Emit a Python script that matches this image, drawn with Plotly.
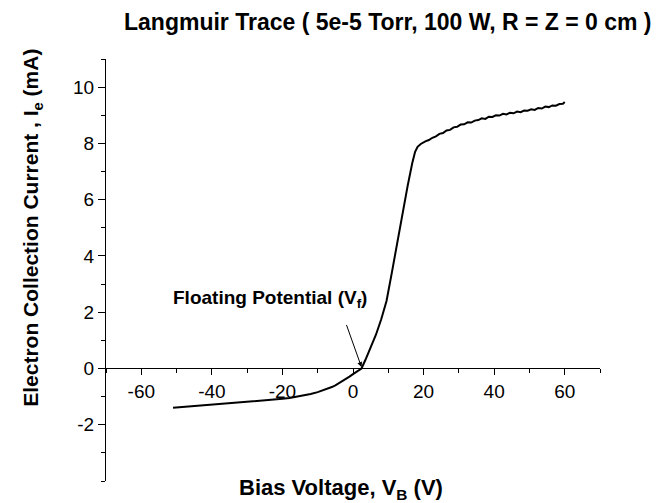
import plotly.graph_objects as go

bias_v = [-51, -50, -48, -46, -44, -42, -40, -38, -35, -32, -30, -27, -25, -22, -20,
          -18, -16, -14, -12, -10, -8, -6, -5, -4, -3, -2, -1, 0, 1, 2.4,
          3.5, 5, 6.5, 8, 9.5, 11, 12.5, 14, 15.5, 16.8, 17.6, 18.3, 19.2, 20.5,
          21.5, 22.5, 23.5, 24.5, 25.5, 26.5, 27.5, 28.5, 29.5, 30.5, 31.5, 32.5,
          33.5, 34.5, 35.5, 36.5, 37.5, 38.5, 39.5, 40.5, 41.5, 42.5, 43.5, 44.5,
          45.5, 46.5, 47.5, 48.5, 49.5, 50.5, 51.5, 52.5, 53.5, 54.5, 55.5, 56.5,
          57.5, 58.5, 59.5, 60]
current_ma = [-1.40, -1.39, -1.37, -1.34, -1.33, -1.31, -1.29, -1.27, -1.25, -1.22, -1.20, -1.16, -1.14, -1.10, -1.08,
              -1.05, -1.01, -0.97, -0.91, -0.84, -0.76, -0.66, -0.60, -0.53, -0.46, -0.38, -0.29, -0.20, -0.11, 0.0,
              0.30, 0.72, 1.20, 1.75, 2.40, 3.40, 4.45, 5.50, 6.50, 7.30, 7.70, 7.88, 7.98, 8.07,
              8.12, 8.20, 8.25, 8.34, 8.37, 8.46, 8.48, 8.57, 8.59, 8.67, 8.68, 8.75, 8.74,
              8.81, 8.83, 8.89, 8.87, 8.95, 8.94, 9.00, 8.99, 9.05, 9.03, 9.09, 9.07,
              9.13, 9.11, 9.17, 9.16, 9.21, 9.19, 9.26, 9.24, 9.31, 9.29, 9.35, 9.34,
              9.40, 9.41, 9.47]

x_ticks = [-60, -40, -20, 0, 20, 40, 60]
y_ticks = [-2, 0, 2, 4, 6, 8, 10]

title_text = "<b>Langmuir Trace ( 5e-5 Torr, 100 W, R = Z = 0 cm )</b>"
x_title = "<b>Bias Voltage, V<sub>B</sub> (V)</b>"
y_title = "<b>Electron Collection Current , I<sub>e</sub> (mA)</b>"
annot_text = "<b>Floating Potential (V<sub>f</sub>)</b>"

FONT = "Liberation Sans, Arial, sans-serif"

fig = go.Figure()
fig.add_trace(go.Scatter(x=bias_v, y=current_ma, mode="lines",
                         line=dict(color="black", width=2), showlegend=False))

fig.update_layout(
    width=666, height=503,
    margin=dict(l=106, r=66, t=59, b=22),
    paper_bgcolor="white", plot_bgcolor="white",
    font=dict(family=FONT, color="black"),
    showlegend=False,
    xaxis=dict(range=[-70, 70], tickvals=x_ticks, ticktext=[str(v) for v in x_ticks],
               showgrid=False, zeroline=False, showline=True, linecolor="black", linewidth=1,
               ticks="outside", ticklen=6, tickwidth=1, tickcolor="black",
               minor=dict(dtick=10, tick0=0, ticks="outside", ticklen=4, tickcolor="black"),
               tickfont=dict(size=19, family=FONT, color="black"),
               anchor="free", position=4/15),
    yaxis=dict(range=[-4, 11], tickvals=y_ticks, ticktext=[str(v) for v in y_ticks],
               showgrid=False, zeroline=False, showline=True, linecolor="black", linewidth=1,
               ticks="outside", ticklen=7, tickwidth=1, tickcolor="black",
               minor=dict(dtick=1, tick0=0, ticks="outside", ticklen=4, tickcolor="black"),
               tickfont=dict(size=19, family=FONT, color="black")),
)

# Title
fig.add_annotation(text=title_text, xref="paper", yref="paper", x=0.57, y=1.0,
                   yanchor="middle", yshift=37, showarrow=False,
                   font=dict(size=23, family=FONT, color="black"))
# Axis titles
fig.add_annotation(text=x_title, xref="paper", yref="paper", x=0.476, y=0,
                   yanchor="middle", yshift=-8, showarrow=False,
                   font=dict(size=22, family=FONT, color="black"))
fig.add_annotation(text=y_title, xref="paper", yref="paper", x=0, y=0.60,
                   xanchor="center", xshift=-74, textangle=-90, showarrow=False,
                   font=dict(size=21, family=FONT, color="black"))
# Floating potential label and arrow
fig.add_annotation(text=annot_text, x=-23.4, y=2.46, xref="x", yref="y", showarrow=False,
                   font=dict(size=19, family=FONT, color="black"))
fig.add_annotation(text="", x=2.4, y=0.05, ax=-2, ay=1.6, xref="x", yref="y",
                   axref="x", ayref="y", showarrow=True, arrowhead=2, arrowsize=1,
                   arrowwidth=1, arrowcolor="black")

fig.write_html("out.html")
